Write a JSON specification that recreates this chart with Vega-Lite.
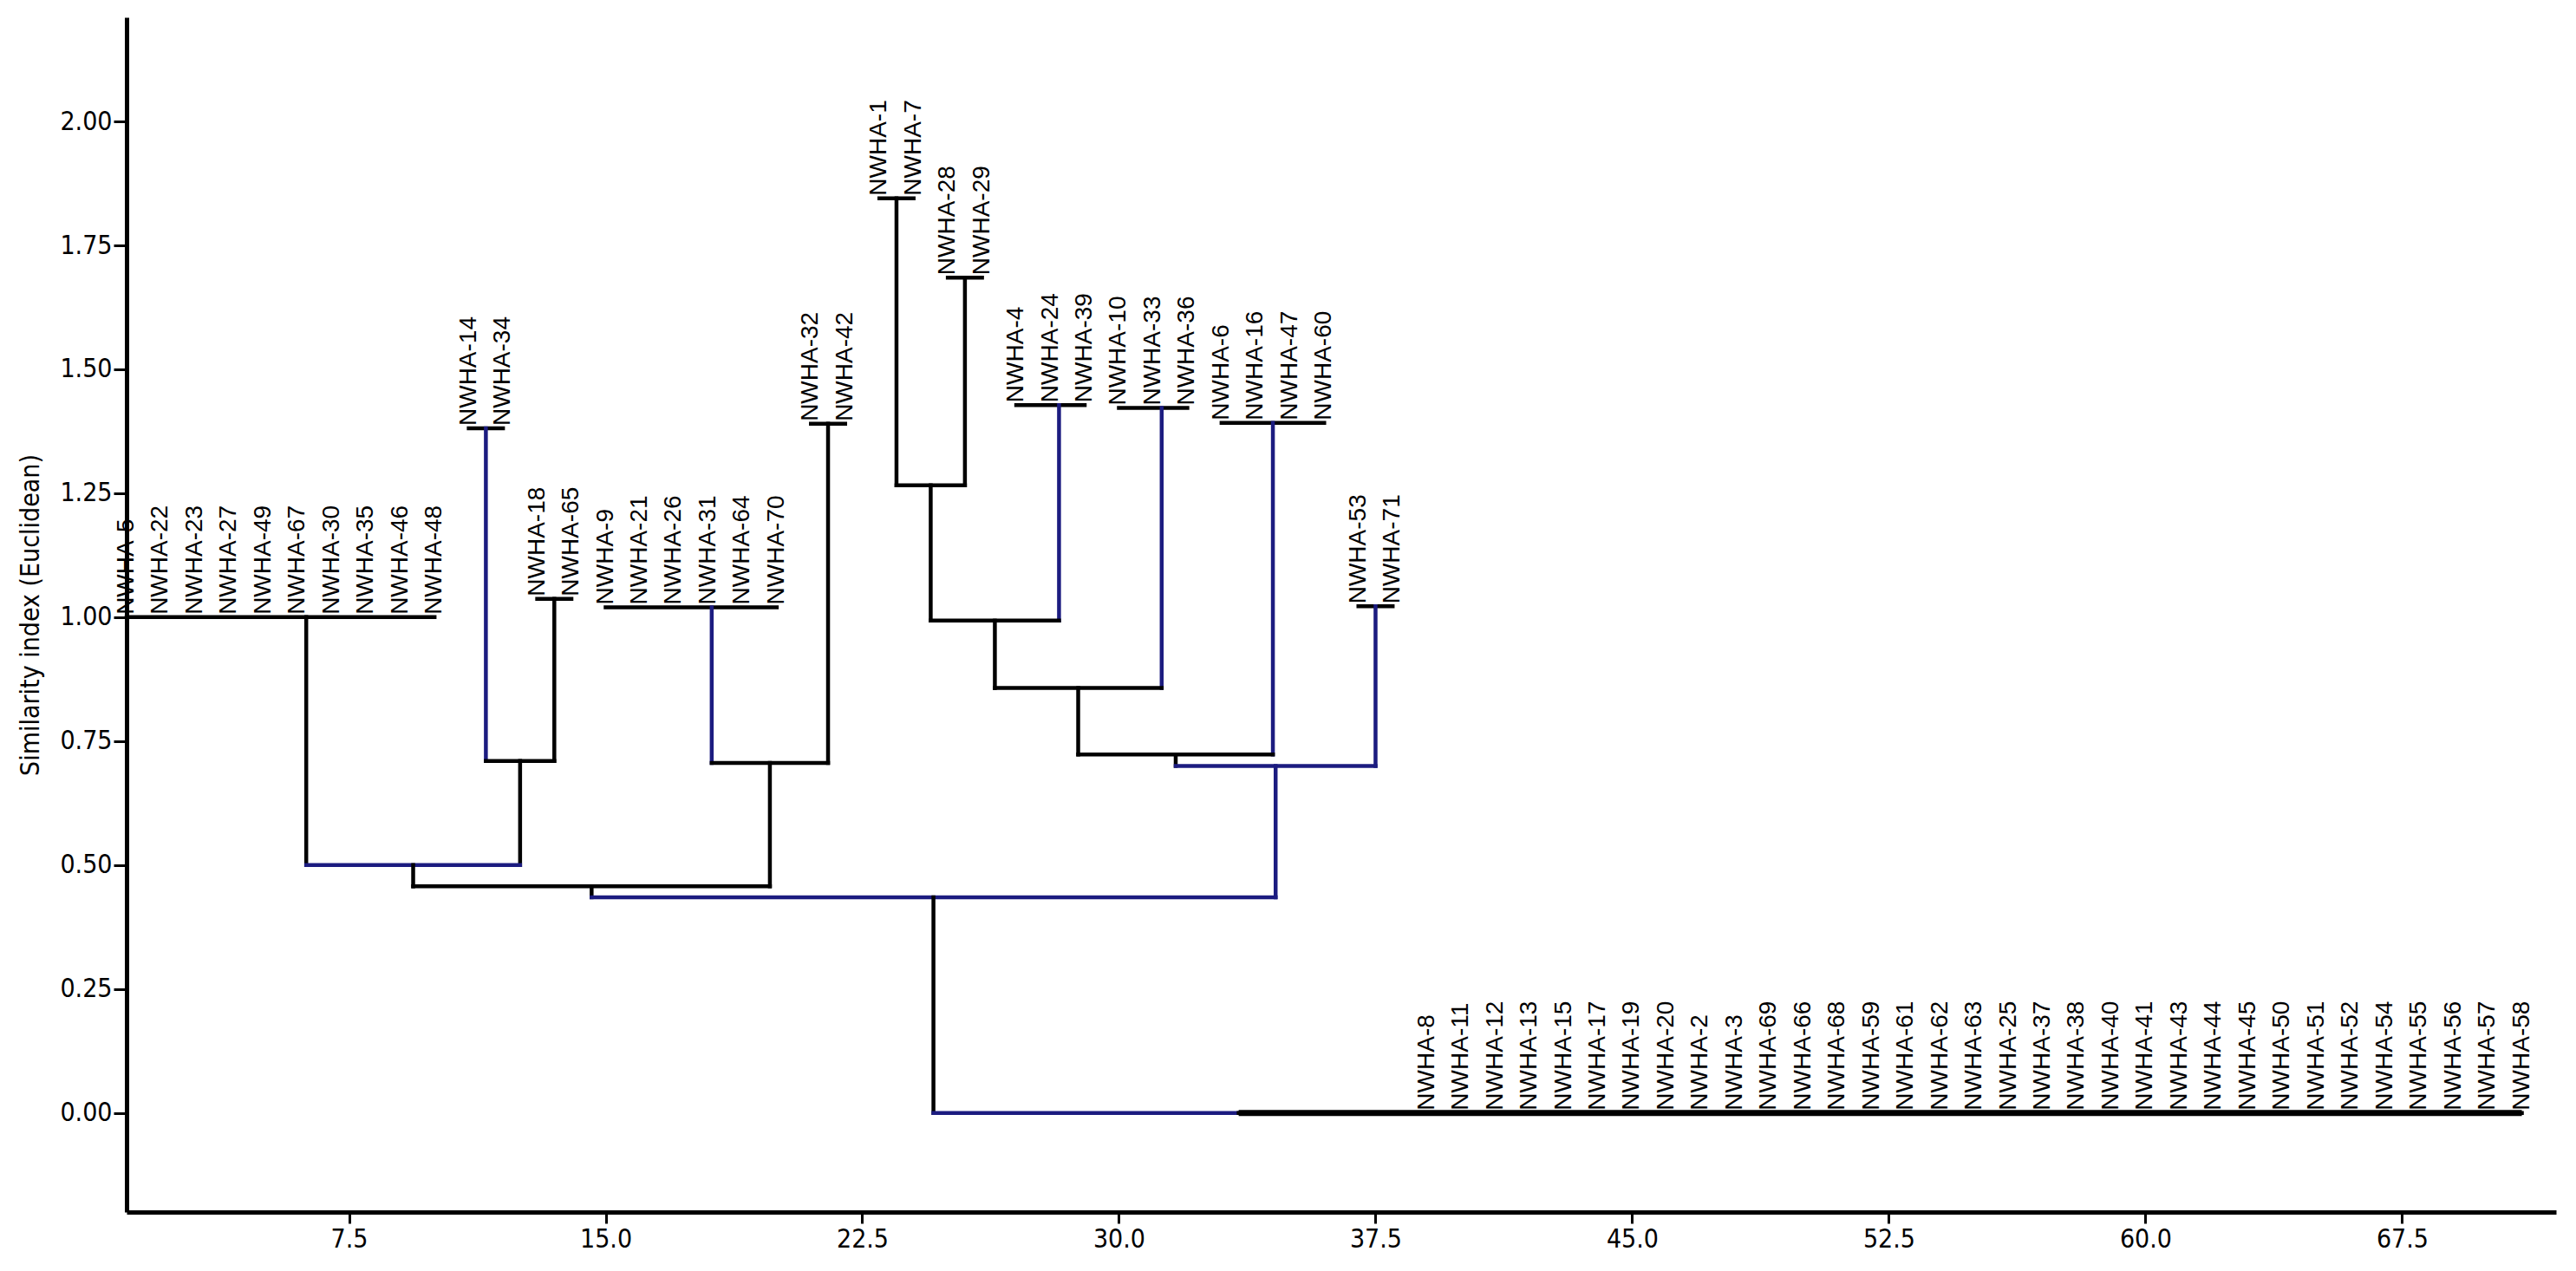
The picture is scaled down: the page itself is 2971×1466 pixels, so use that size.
{
  "$schema": "https://vega.github.io/schema/vega-lite/v6.json",
  "width": 2802,
  "height": 1378,
  "autosize": {"type": "none"},
  "padding": {"left": 146, "top": 20, "right": 23, "bottom": 68},
  "background": "white",
  "config": {"view": {"stroke": null}, "font": "Liberation Sans"},
  "datasets": {
    "segs": [
      {"x": 1, "x2": 10, "y": 1.0, "y2": 1.0, "set": "k"},
      {"x": 11, "x2": 12, "y": 1.381, "y2": 1.381, "set": "k"},
      {"x": 13, "x2": 14, "y": 1.037, "y2": 1.037, "set": "k"},
      {"x": 15, "x2": 20, "y": 1.02, "y2": 1.02, "set": "k"},
      {"x": 21, "x2": 22, "y": 1.39, "y2": 1.39, "set": "k"},
      {"x": 23, "x2": 24, "y": 1.845, "y2": 1.845, "set": "k"},
      {"x": 25, "x2": 26, "y": 1.685, "y2": 1.685, "set": "k"},
      {"x": 27, "x2": 29, "y": 1.428, "y2": 1.428, "set": "k"},
      {"x": 30, "x2": 32, "y": 1.422, "y2": 1.422, "set": "k"},
      {"x": 33, "x2": 36, "y": 1.392, "y2": 1.392, "set": "k"},
      {"x": 37, "x2": 38, "y": 1.022, "y2": 1.022, "set": "k"},
      {"x": 6.25, "x2": 6.25, "y": 1.0, "y2": 0.5, "set": "k"},
      {"x": 11.5, "x2": 11.5, "y": 1.381, "y2": 0.71, "set": "b"},
      {"x": 13.5, "x2": 13.5, "y": 1.037, "y2": 0.71, "set": "k"},
      {"x": 11.5, "x2": 13.5, "y": 0.71, "y2": 0.71, "set": "k"},
      {"x": 12.5, "x2": 12.5, "y": 0.71, "y2": 0.5, "set": "k"},
      {"x": 6.25, "x2": 12.5, "y": 0.5, "y2": 0.5, "set": "b"},
      {"x": 9.375, "x2": 9.375, "y": 0.5, "y2": 0.457, "set": "k"},
      {"x": 18.1, "x2": 18.1, "y": 1.02, "y2": 0.706, "set": "b"},
      {"x": 21.5, "x2": 21.5, "y": 1.39, "y2": 0.706, "set": "k"},
      {"x": 18.1, "x2": 21.5, "y": 0.706, "y2": 0.706, "set": "k"},
      {"x": 19.8, "x2": 19.8, "y": 0.706, "y2": 0.457, "set": "k"},
      {"x": 9.375, "x2": 19.8, "y": 0.457, "y2": 0.457, "set": "k"},
      {"x": 14.59, "x2": 14.59, "y": 0.457, "y2": 0.435, "set": "k"},
      {"x": 14.59, "x2": 34.58, "y": 0.435, "y2": 0.435, "set": "b"},
      {"x": 24.58, "x2": 24.58, "y": 0.435, "y2": 0.0, "set": "k"},
      {"x": 24.58, "x2": 33.5, "y": 0.0, "y2": 0.0, "set": "b"},
      {"x": 33.5, "x2": 71, "y": 0.0, "y2": 0.0, "set": "k"},
      {"x": 23.5, "x2": 23.5, "y": 1.845, "y2": 1.266, "set": "k"},
      {"x": 25.5, "x2": 25.5, "y": 1.685, "y2": 1.266, "set": "k"},
      {"x": 23.5, "x2": 25.5, "y": 1.266, "y2": 1.266, "set": "k"},
      {"x": 24.5, "x2": 24.5, "y": 1.266, "y2": 0.993, "set": "k"},
      {"x": 28.25, "x2": 28.25, "y": 1.428, "y2": 0.993, "set": "b"},
      {"x": 24.5, "x2": 28.25, "y": 0.993, "y2": 0.993, "set": "k"},
      {"x": 26.375, "x2": 26.375, "y": 0.993, "y2": 0.857, "set": "k"},
      {"x": 31.25, "x2": 31.25, "y": 1.422, "y2": 0.857, "set": "b"},
      {"x": 26.375, "x2": 31.25, "y": 0.857, "y2": 0.857, "set": "k"},
      {"x": 28.81, "x2": 28.81, "y": 0.857, "y2": 0.723, "set": "k"},
      {"x": 34.5, "x2": 34.5, "y": 1.392, "y2": 0.723, "set": "b"},
      {"x": 28.81, "x2": 34.5, "y": 0.723, "y2": 0.723, "set": "k"},
      {"x": 31.66, "x2": 31.66, "y": 0.723, "y2": 0.7, "set": "k"},
      {"x": 37.5, "x2": 37.5, "y": 1.022, "y2": 0.7, "set": "b"},
      {"x": 31.66, "x2": 37.5, "y": 0.7, "y2": 0.7, "set": "b"},
      {"x": 34.58, "x2": 34.58, "y": 0.7, "y2": 0.435, "set": "b"}
    ],
    "leaves": [
      {"name": "NWHA-5", "pos": 1, "h": 1.0},
      {"name": "NWHA-22", "pos": 2, "h": 1.0},
      {"name": "NWHA-23", "pos": 3, "h": 1.0},
      {"name": "NWHA-27", "pos": 4, "h": 1.0},
      {"name": "NWHA-49", "pos": 5, "h": 1.0},
      {"name": "NWHA-67", "pos": 6, "h": 1.0},
      {"name": "NWHA-30", "pos": 7, "h": 1.0},
      {"name": "NWHA-35", "pos": 8, "h": 1.0},
      {"name": "NWHA-46", "pos": 9, "h": 1.0},
      {"name": "NWHA-48", "pos": 10, "h": 1.0},
      {"name": "NWHA-14", "pos": 11, "h": 1.381},
      {"name": "NWHA-34", "pos": 12, "h": 1.381},
      {"name": "NWHA-18", "pos": 13, "h": 1.037},
      {"name": "NWHA-65", "pos": 14, "h": 1.037},
      {"name": "NWHA-9", "pos": 15, "h": 1.02},
      {"name": "NWHA-21", "pos": 16, "h": 1.02},
      {"name": "NWHA-26", "pos": 17, "h": 1.02},
      {"name": "NWHA-31", "pos": 18, "h": 1.02},
      {"name": "NWHA-64", "pos": 19, "h": 1.02},
      {"name": "NWHA-70", "pos": 20, "h": 1.02},
      {"name": "NWHA-32", "pos": 21, "h": 1.39},
      {"name": "NWHA-42", "pos": 22, "h": 1.39},
      {"name": "NWHA-1", "pos": 23, "h": 1.845},
      {"name": "NWHA-7", "pos": 24, "h": 1.845},
      {"name": "NWHA-28", "pos": 25, "h": 1.685},
      {"name": "NWHA-29", "pos": 26, "h": 1.685},
      {"name": "NWHA-4", "pos": 27, "h": 1.428},
      {"name": "NWHA-24", "pos": 28, "h": 1.428},
      {"name": "NWHA-39", "pos": 29, "h": 1.428},
      {"name": "NWHA-10", "pos": 30, "h": 1.422},
      {"name": "NWHA-33", "pos": 31, "h": 1.422},
      {"name": "NWHA-36", "pos": 32, "h": 1.422},
      {"name": "NWHA-6", "pos": 33, "h": 1.392},
      {"name": "NWHA-16", "pos": 34, "h": 1.392},
      {"name": "NWHA-47", "pos": 35, "h": 1.392},
      {"name": "NWHA-60", "pos": 36, "h": 1.392},
      {"name": "NWHA-53", "pos": 37, "h": 1.022},
      {"name": "NWHA-71", "pos": 38, "h": 1.022},
      {"name": "NWHA-8", "pos": 39, "h": 0},
      {"name": "NWHA-11", "pos": 40, "h": 0},
      {"name": "NWHA-12", "pos": 41, "h": 0},
      {"name": "NWHA-13", "pos": 42, "h": 0},
      {"name": "NWHA-15", "pos": 43, "h": 0},
      {"name": "NWHA-17", "pos": 44, "h": 0},
      {"name": "NWHA-19", "pos": 45, "h": 0},
      {"name": "NWHA-20", "pos": 46, "h": 0},
      {"name": "NWHA-2", "pos": 47, "h": 0},
      {"name": "NWHA-3", "pos": 48, "h": 0},
      {"name": "NWHA-69", "pos": 49, "h": 0},
      {"name": "NWHA-66", "pos": 50, "h": 0},
      {"name": "NWHA-68", "pos": 51, "h": 0},
      {"name": "NWHA-59", "pos": 52, "h": 0},
      {"name": "NWHA-61", "pos": 53, "h": 0},
      {"name": "NWHA-62", "pos": 54, "h": 0},
      {"name": "NWHA-63", "pos": 55, "h": 0},
      {"name": "NWHA-25", "pos": 56, "h": 0},
      {"name": "NWHA-37", "pos": 57, "h": 0},
      {"name": "NWHA-38", "pos": 58, "h": 0},
      {"name": "NWHA-40", "pos": 59, "h": 0},
      {"name": "NWHA-41", "pos": 60, "h": 0},
      {"name": "NWHA-43", "pos": 61, "h": 0},
      {"name": "NWHA-44", "pos": 62, "h": 0},
      {"name": "NWHA-45", "pos": 63, "h": 0},
      {"name": "NWHA-50", "pos": 64, "h": 0},
      {"name": "NWHA-51", "pos": 65, "h": 0},
      {"name": "NWHA-52", "pos": 66, "h": 0},
      {"name": "NWHA-54", "pos": 67, "h": 0},
      {"name": "NWHA-55", "pos": 68, "h": 0},
      {"name": "NWHA-56", "pos": 69, "h": 0},
      {"name": "NWHA-57", "pos": 70, "h": 0},
      {"name": "NWHA-58", "pos": 71, "h": 0}
    ]
  },
  "layer": [
    {
      "data": {"name": "segs"},
      "mark": {"type": "rule", "strokeWidth": 4.5, "strokeCap": "square"},
      "encoding": {
        "x": {
          "field": "x", "type": "quantitative",
          "scale": {"domain": [1, 72], "nice": false, "zero": false},
          "axis": {
            "values": [7.5, 15, 22.5, 30, 37.5, 45, 52.5, 60, 67.5],
            "format": ".1f", "title": null, "grid": false,
            "domainColor": "black", "domainWidth": 5,
            "tickColor": "black", "tickWidth": 3, "tickSize": 13,
            "labelFontSize": 30, "labelColor": "black", "labelPadding": 3,
            "labelFont": "Liberation Sans Narrow, DejaVu Sans Condensed, Liberation Sans"
          }
        },
        "x2": {"field": "x2"},
        "y": {
          "field": "y", "type": "quantitative",
          "scale": {"domain": [-0.2, 2.21], "nice": false, "zero": false},
          "axis": {
            "values": [0, 0.25, 0.5, 0.75, 1, 1.25, 1.5, 1.75, 2],
            "format": ".2f", "title": "Similarity index (Euclidean)",
            "titleFontSize": 30, "titleFontWeight": "normal", "titleColor": "black",
            "titleFont": "Liberation Sans Narrow, DejaVu Sans Condensed, Liberation Sans",
            "titlePadding": 18,
            "grid": false, "domainColor": "black", "domainWidth": 5,
            "tickColor": "black", "tickWidth": 3, "tickSize": 15,
            "labelFontSize": 30, "labelColor": "black", "labelPadding": 2,
            "labelFont": "Liberation Sans Narrow, DejaVu Sans Condensed, Liberation Sans"
          }
        },
        "y2": {"field": "y2"},
        "color": {
          "field": "set", "type": "nominal",
          "scale": {"domain": ["k", "b"], "range": ["#000000", "#1c1c80"]},
          "legend": null
        }
      }
    },
    {
      "data": {"name": "segs"},
      "transform": [{"filter": "datum.y == 0 && datum.y2 == 0 && datum.set == 'k'"}],
      "mark": {"type": "rule", "strokeWidth": 7, "color": "#000000"},
      "encoding": {
        "x": {"field": "x", "type": "quantitative"},
        "x2": {"field": "x2"},
        "y": {"field": "y", "type": "quantitative"},
        "y2": {"field": "y2"}
      }
    },
    {
      "data": {"name": "leaves"},
      "mark": {
        "type": "text", "angle": 270, "align": "left", "baseline": "middle",
        "dx": 3, "fontSize": 28, "font": "Liberation Sans", "color": "black"
      },
      "encoding": {
        "x": {"field": "pos", "type": "quantitative"},
        "y": {"field": "h", "type": "quantitative"},
        "text": {"field": "name"}
      }
    }
  ]
}
